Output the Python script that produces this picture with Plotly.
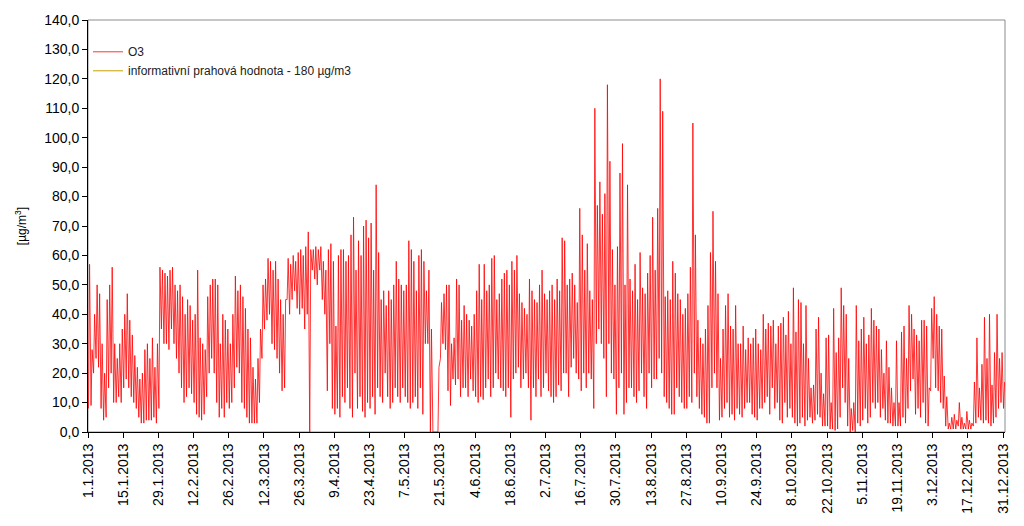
import pandas as pd
import plotly.graph_objects as go

# Daily maxima and minima of hourly O3 [µg/m3], 1.1.2013 .. 31.12.2013
daily_max = [
    57, 28, 40, 50, 47, 30, 20, 45, 50, 56, 30, 25, 30, 35, 40, 47, 38, 33, 26, 22,
    18, 20, 28, 30, 25, 32, 22, 30, 56, 55, 54, 53, 55, 56, 50, 48, 50, 46, 40, 45,
    43, 38, 40, 55, 32, 30, 28, 46, 50, 52, 52, 50, 30, 40, 38, 35, 30, 40, 53, 48,
    50, 46, 42, 35, 32, 22, 18, 25, 35, 50, 52, 59, 58, 55, 58, 52, 45, 40, 45, 59,
    57, 60, 58, 61, 62, 60, 63, 68, 62, 62, 63, 62, 63, 58, 55, 62, 64, 58, 36, 60,
    62, 62, 58, 60, 67, 73, 55, 65, 60, 70, 72, 66, 71, 55, 84, 61, 45, 48, 43, 48,
    45, 50, 58, 52, 50, 48, 50, 65, 62, 58, 48, 60, 62, 58, 48, 55, 35, 0, 0, 22,
    44, 47, 50, 50, 30, 32, 52, 50, 38, 43, 40, 38, 36, 40, 48, 57, 45, 57, 48, 50,
    59, 60, 45, 47, 52, 54, 55, 50, 58, 55, 60, 47, 44, 42, 40, 52, 48, 45, 44, 50,
    55, 47, 45, 48, 50, 45, 52, 48, 66, 65, 50, 52, 54, 50, 44, 76, 67, 55, 64, 48,
    45, 110, 77, 85, 74, 81, 118, 92, 62, 50, 63, 88, 98, 50, 84, 52, 48, 57, 45, 61,
    49, 47, 54, 60, 73, 55, 76, 120, 109, 46, 48, 45, 58, 54, 47, 45, 40, 42, 47, 56,
    105, 67, 38, 32, 30, 35, 43, 61, 75, 58, 47, 25, 35, 43, 47, 36, 35, 43, 30, 30,
    36, 28, 32, 30, 32, 35, 30, 28, 40, 35, 37, 36, 38, 30, 36, 37, 39, 33, 41, 30,
    49, 34, 45, 44, 30, 43, 25, 15, 16, 35, 39, 20, 13, 32, 33, 10, 42, 27, 32, 49,
    43, 40, 25, 8, 10, 43, 31, 35, 39, 30, 33, 42, 38, 36, 35, 28, 20, 31, 22, 15,
    10, 31, 10, 34, 36, 25, 43, 40, 35, 33, 31, 38, 38, 36, 15, 42, 46, 40, 36, 35,
    19, 12, 3, 5, 6, 4, 10, 5, 3, 7, 4, 3, 17, 32, 15, 23, 39, 25, 40, 16,
    27, 40, 25, 27, 17,
]
daily_min = [
    8, 9, 20, 25, 22, 8, 4, 5, 15, 20, 10, 10, 12, 10, 15, 18, 15, 12, 10, 8,
    5, 3, 3, 4, 4, 4, 5, 3, 8, 35, 30, 30, 28, 35, 30, 25, 20, 15, 10, 12,
    15, 13, 10, 6, 5, 4, 6, 12, 20, 25, 20, 10, 5, 8, 5, 10, 8, 10, 15, 22,
    20, 10, 8, 5, 3, 3, 3, 3, 10, 25, 35, 38, 40, 30, 28, 25, 20, 14, 15, 45,
    40, 45, 48, 42, 40, 42, 35, 40, 0, 55, 52, 50, 55, 45, 40, 14, 30, 8, 6, 8,
    5, 12, 10, 15, 8, 5, 20, 8, 12, 7, 5, 10, 8, 12, 6, 15, 12, 10, 20, 12,
    8, 10, 15, 12, 10, 15, 12, 10, 8, 10, 12, 8, 15, 6, 30, 30, 0, 0, 0, 0,
    25, 30, 28, 14, 9, 18, 16, 18, 12, 15, 15, 12, 18, 14, 12, 10, 12, 11, 15, 18,
    12, 15, 20, 18, 15, 14, 12, 15, 5, 18, 20, 22, 15, 18, 20, 15, 4, 15, 12, 18,
    12, 15, 20, 14, 12, 10, 12, 16, 14, 20, 20, 12, 22, 25, 20, 18, 14, 20, 15, 20,
    18, 8, 30, 35, 30, 25, 12, 30, 20, 18, 6, 15, 20, 6, 10, 15, 15, 12, 10, 14,
    20, 12, 8, 20, 15, 18, 18, 25, 20, 12, 10, 8, 6, 6, 15, 12, 10, 8, 8, 12,
    10, 20, 12, 8, 6, 5, 3, 3, 15, 20, 15, 4, 5, 8, 10, 5, 6, 4, 8, 6,
    5, 8, 10, 10, 6, 5, 4, 8, 8, 10, 12, 6, 15, 8, 10, 4, 3, 10, 5, 8,
    5, 3, 2, 3, 5, 2, 4, 5, 3, 4, 6, 5, 2, 2, 2, 1, 1, 0.5, 1, 5,
    15, 10, 2, 0, 0.5, 0, 3, 2, 4, 8, 3, 5, 10, 8, 10, 5, 8, 4, 3, 3,
    2, 2, 2, 2, 5, 3, 8, 14, 18, 6, 8, 5, 10, 3, 2, 14, 25, 15, 14, 10,
    8, 2, 1, 1, 1, 1, 2, 1, 1, 1, 1, 1, 2, 3, 5, 4, 3, 4, 3, 2,
    3, 5, 8, 10, 8,
]
threshold = [180, 180]
threshold_dates = ["2013-01-01", "2013-12-31 23:00"]
tick_labels = [
    "1.1.2013", "15.1.2013", "29.1.2013", "12.2.2013", "26.2.2013", "12.3.2013",
    "26.3.2013", "9.4.2013", "23.4.2013", "7.5.2013", "21.5.2013", "4.6.2013",
    "18.6.2013", "2.7.2013", "16.7.2013", "30.7.2013", "13.8.2013", "27.8.2013",
    "10.9.2013", "24.9.2013", "8.10.2013", "22.10.2013", "5.11.2013", "19.11.2013",
    "3.12.2013", "17.12.2013", "31.12.2013",
]

start = pd.Timestamp("2013-01-01")
xs, ys = [], []
for d, (mx, mn) in enumerate(zip(daily_max, daily_min)):
    day = start + pd.Timedelta(days=d)
    xs.append(day + pd.Timedelta(hours=5))
    ys.append(mn)
    xs.append(day + pd.Timedelta(hours=15))
    ys.append(mx)

tick_vals = [start + pd.Timedelta(days=14 * i) for i in range(len(tick_labels))]

fig = go.Figure()
fig.add_trace(go.Scatter(x=xs, y=ys, mode="lines", name="O3",
                         line=dict(color="#FF0000", width=0.8)))
fig.add_trace(go.Scatter(x=threshold_dates, y=threshold, mode="lines",
                         name="informativní prahová hodnota - 180 µg/m3",
                         line=dict(color="#C8A200", width=1)))

font = "Liberation Sans, Arial, sans-serif"
fig.update_layout(
    width=1024, height=526,
    margin=dict(l=88, r=19, t=20, b=94),
    paper_bgcolor="white", plot_bgcolor="white",
    separators=", ",
    font=dict(family=font, size=14, color="black"),
    showlegend=True,
    legend=dict(x=0.0, y=0.958, xanchor="left", yanchor="top",
                bgcolor="rgba(0,0,0,0)", font=dict(size=12, color="#222"),
                tracegroupgap=0, itemwidth=30),
    xaxis=dict(
        type="date",
        range=[start, start + pd.Timedelta(days=364, hours=19)],
        tickmode="array", tickvals=tick_vals, ticktext=tick_labels,
        tickangle=-90, ticks="outside", ticklen=5, tickcolor="black",
        showline=True, linecolor="black", linewidth=1,
        showgrid=False, zeroline=False,
        tickfont=dict(size=14, color="black"),
    ),
    yaxis=dict(
        range=[0, 140], tickmode="linear", tick0=0, dtick=10,
        tickformat=".1f", ticks="outside", ticklen=5, tickcolor="black",
        showline=True, linecolor="black", linewidth=1,
        showgrid=False, zeroline=False,
        tickfont=dict(size=14, color="black"),
        title=dict(text="[µg/m<sup>3</sup>]", font=dict(size=12, color="black"),
                   standoff=14),
    ),
    shapes=[dict(type="rect", xref="paper", yref="paper", x0=0, y0=0, x1=1, y1=1,
                 line=dict(color="#8C8C8C", width=1), layer="below")],
)

fig.write_html("out.html")
